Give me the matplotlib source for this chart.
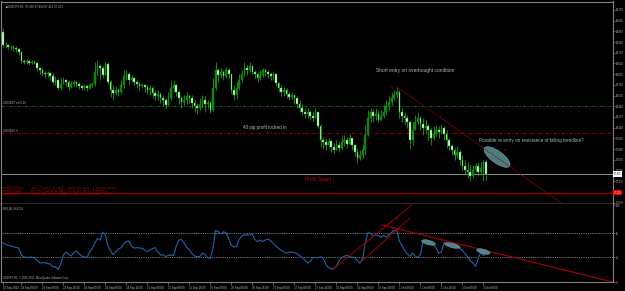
import matplotlib
matplotlib.use('Agg')
import matplotlib.pyplot as plt
import matplotlib.transforms as mtransforms
from matplotlib.patches import Ellipse
import numpy as np

plt.rcParams['font.family'] = ['Liberation Sans', 'DejaVu Sans']

# USDJPY H1 bars (open of each bar = close of the bar before)
first_open = 99.46
close = [99.28, 99.28, 99.25, 99.25, 99.24, 99.22, 99.18, 99.05, 99.04, 99.05,
         99.03, 99.04, 99.03, 98.96, 98.93, 98.89, 98.87, 98.89, 98.84, 98.76,
         98.79, 98.68, 98.73, 98.79, 98.76, 98.69, 98.73, 98.76, 98.73, 98.70,
         98.68, 98.70, 98.68, 98.72, 98.73, 98.90, 98.98, 98.96, 98.86, 99.01,
         98.76, 98.65, 98.61, 98.65, 98.62, 98.72, 98.84, 98.87, 98.79, 98.82,
         98.76, 98.73, 98.70, 98.72, 98.69, 98.65, 98.68, 98.61, 98.56, 98.59,
         98.54, 98.51, 98.44, 98.54, 98.68, 98.72, 98.62, 98.54, 98.48, 98.51,
         98.56, 98.54, 98.47, 98.42, 98.40, 98.45, 98.51, 98.45, 98.47, 98.37,
         98.68, 98.93, 98.86, 98.90, 98.84, 98.93, 98.87, 98.65, 98.58, 98.68,
         98.79, 98.87, 98.96, 98.93, 98.98, 98.90, 98.87, 98.82, 98.86, 98.93,
         98.90, 98.87, 98.84, 98.87, 98.75, 98.68, 98.62, 98.65, 98.59, 98.55,
         98.58, 98.54, 98.45, 98.40, 98.34, 98.31, 98.34, 98.28, 98.26, 98.34,
         98.14, 97.95, 97.92, 97.88, 97.93, 97.85, 97.81, 97.88, 97.84, 97.92,
         97.95, 97.89, 97.98, 97.88, 97.78, 97.70, 97.74, 97.81, 98.02, 98.26,
         98.34, 98.28, 98.31, 98.23, 98.28, 98.34, 98.42, 98.48, 98.54, 98.58,
         98.62, 98.34, 98.28, 98.26, 98.20, 97.95, 98.09, 98.20, 98.26, 98.17,
         98.12, 98.14, 98.09, 97.98, 98.03, 98.09, 98.06, 98.12, 98.03, 97.95,
         97.86, 97.81, 97.74, 97.78, 97.67, 97.58, 97.53, 97.50, 97.44, 97.53,
         97.58, 97.50, 97.56, 97.64, 97.47]
high = [99.52, 99.32, 99.29, 99.28, 99.28, 99.26, 99.24, 99.19, 99.08, 99.08,
        99.07, 99.07, 99.07, 99.04, 98.97, 98.96, 98.91, 98.91, 98.90, 98.89,
        98.84, 98.80, 98.82, 98.83, 98.80, 98.79, 98.77, 98.79, 98.77, 98.76,
        98.72, 98.73, 98.72, 98.75, 98.76, 99.04, 99.07, 99.01, 98.98, 99.04,
        99.04, 98.79, 98.72, 98.70, 98.68, 98.79, 98.93, 98.93, 98.90, 98.86,
        98.83, 98.79, 98.76, 98.75, 98.73, 98.72, 98.72, 98.70, 98.65, 98.65,
        98.62, 98.58, 98.54, 98.62, 98.79, 98.79, 98.73, 98.65, 98.56, 98.58,
        98.62, 98.59, 98.58, 98.51, 98.47, 98.54, 98.58, 98.56, 98.51, 98.49,
        98.82, 99.04, 98.96, 98.96, 98.93, 98.97, 98.96, 98.87, 98.72, 98.76,
        98.87, 98.93, 99.04, 99.00, 99.04, 98.98, 98.93, 98.90, 98.93, 98.96,
        98.96, 98.93, 98.90, 98.90, 98.89, 98.76, 98.72, 98.69, 98.68, 98.62,
        98.62, 98.58, 98.55, 98.51, 98.45, 98.40, 98.40, 98.37, 98.34, 98.40,
        98.34, 98.17, 97.99, 97.98, 97.98, 97.95, 97.91, 97.95, 97.92, 98.02,
        98.02, 97.99, 98.03, 97.98, 97.89, 97.84, 97.81, 97.88, 98.16, 98.37,
        98.40, 98.38, 98.40, 98.37, 98.37, 98.44, 98.51, 98.56, 98.62, 98.65,
        98.69, 98.65, 98.40, 98.34, 98.30, 98.23, 98.20, 98.30, 98.34, 98.28,
        98.26, 98.23, 98.17, 98.12, 98.14, 98.16, 98.14, 98.17, 98.14, 98.09,
        97.98, 97.89, 97.84, 97.86, 97.81, 97.74, 97.67, 97.64, 97.61, 97.60,
        97.63, 97.64, 97.64, 97.67, 97.67]
low = [99.25, 99.24, 99.22, 99.21, 99.19, 99.18, 99.14, 99.03, 99.01, 99.01,
       99.00, 99.01, 99.01, 98.91, 98.87, 98.84, 98.82, 98.83, 98.79, 98.73,
       98.72, 98.65, 98.65, 98.73, 98.70, 98.65, 98.68, 98.70, 98.69, 98.66,
       98.65, 98.65, 98.63, 98.66, 98.69, 98.70, 98.86, 98.79, 98.82, 98.90,
       98.73, 98.55, 98.51, 98.58, 98.56, 98.59, 98.68, 98.79, 98.73, 98.76,
       98.72, 98.68, 98.65, 98.68, 98.62, 98.59, 98.58, 98.54, 98.51, 98.51,
       98.47, 98.42, 98.40, 98.42, 98.51, 98.62, 98.56, 98.45, 98.40, 98.42,
       98.45, 98.47, 98.40, 98.34, 98.31, 98.37, 98.40, 98.34, 98.40, 98.33,
       98.35, 98.65, 98.76, 98.82, 98.79, 98.82, 98.82, 98.61, 98.51, 98.52,
       98.65, 98.76, 98.84, 98.86, 98.90, 98.87, 98.82, 98.76, 98.79, 98.83,
       98.84, 98.82, 98.79, 98.79, 98.70, 98.62, 98.56, 98.56, 98.54, 98.51,
       98.52, 98.45, 98.40, 98.34, 98.30, 98.26, 98.26, 98.23, 98.20, 98.26,
       98.12, 97.85, 97.82, 97.81, 97.84, 97.78, 97.77, 97.81, 97.78, 97.81,
       97.86, 97.84, 97.88, 97.81, 97.72, 97.63, 97.67, 97.70, 97.74, 98.00,
       98.20, 98.20, 98.23, 98.20, 98.23, 98.26, 98.30, 98.37, 98.44, 98.51,
       98.54, 98.26, 98.20, 98.17, 98.12, 97.84, 97.88, 98.09, 98.17, 98.09,
       98.02, 98.03, 97.95, 97.88, 97.95, 98.00, 97.98, 98.03, 97.95, 97.84,
       97.81, 97.74, 97.67, 97.70, 97.60, 97.53, 97.47, 97.42, 97.39, 97.42,
       97.50, 97.44, 97.46, 97.37, 97.37]
rsi = [52.9, 51.0, 49.7, 49.1, 48.2, 47.2, 46.6, 37.9, 35.4, 35.0,
       35.0, 35.3, 34.1, 31.0, 27.9, 28.1, 28.2, 27.2, 26.6, 22.9,
       23.2, 19.7, 26.6, 37.9, 41.6, 38.5, 36.6, 41.0, 42.9, 39.1,
       36.6, 35.4, 34.7, 41.6, 46.0, 52.9, 58.5, 56.6, 66.0, 62.9,
       49.1, 42.9, 37.9, 42.2, 45.4, 47.2, 51.6, 54.7, 55.4, 48.5,
       46.6, 47.0, 46.6, 46.3, 44.1, 42.2, 44.1, 46.0, 47.2, 41.6,
       37.9, 38.2, 36.0, 37.2, 37.9, 37.2, 49.1, 56.6, 57.2, 52.9,
       47.2, 44.7, 39.7, 36.6, 35.7, 36.0, 40.4, 38.5, 34.1, 33.8,
       46.6, 68.5, 67.0, 64.1, 66.9, 65.4, 58.5, 49.7, 48.2, 48.5,
       57.9, 61.6, 62.9, 63.1, 62.9, 63.5, 57.2, 54.7, 56.4, 54.7,
       56.6, 57.9, 55.7, 52.2, 49.1, 46.0, 43.7, 41.6, 40.1, 41.6,
       41.5, 40.5, 39.6, 37.0, 35.2, 31.6, 27.9, 29.6, 34.7, 34.7,
       34.4, 35.6, 33.7, 26.0, 22.1, 20.9, 20.4, 23.7, 30.7, 34.6,
       36.2, 37.6, 35.4, 35.2, 34.1, 30.7, 27.5, 32.5, 52.9, 65.4,
       65.1, 61.6, 63.1, 62.1, 60.0, 62.5, 60.2, 63.4, 66.0, 68.5,
       69.1, 55.4, 49.7, 43.5, 39.1, 36.0, 40.4, 36.6, 34.4, 37.9,
       54.1, 54.7, 53.7, 52.9, 51.2, 46.6, 40.0, 41.6, 53.1, 52.5,
       51.0, 49.7, 48.9, 48.5, 46.0, 43.5, 39.5, 35.7, 31.0, 27.9,
       23.5, 32.9, 41.6, 37.2, 39.9]

# order levels
entry_price = 98.42
stop_price = 98.04
bid_price = 97.471
target_price = 97.21

# 97.22 sits under the red target box, so it is left out
price_ticks = [97.07, 97.37, 97.52, 97.67, 97.82, 97.97, 98.12, 98.27, 98.42,
               98.57, 98.72, 98.87, 99.02, 99.17, 99.32, 99.47, 99.62, 99.77]
rsi_levels = [65, 35]

date_ticks = [0, 7, 15, 23, 31, 39, 47, 55, 63, 71, 79, 87, 95, 103, 111, 119,
              127, 135, 143, 151, 159, 167, 175, 183]
date_labels = ['20 Sep 2013', '23 Sep 00:00', '23 Sep 08:00', '23 Sep 16:00',
               '24 Sep 00:00', '24 Sep 08:00', '24 Sep 16:00', '25 Sep 00:00',
               '25 Sep 08:00', '25 Sep 16:00', '26 Sep 00:00', '26 Sep 08:00',
               '26 Sep 16:00', '27 Sep 00:00', '27 Sep 08:00', '27 Sep 16:00',
               '30 Sep 00:00', '30 Sep 08:00', '30 Sep 16:00', '1 Oct 00:00',
               '1 Oct 08:00', '1 Oct 16:00', '2 Oct 00:00', '2 Oct 08:00']

# drawn trendlines (bar index, value)
price_trend_x = [150.1, 213.3]
price_trend_y = [98.69, 97.05]
rsi_trend_x = [144.4, 232.4]
rsi_trend_y = [75.4, 4.1]
rsi_chan_a_x = [125.3, 155.8]
rsi_chan_a_y = [19.1, 100.4]
rsi_chan_b_x = [136.0, 155.0]
rsi_chan_b_y = [27.9, 84.1]

BG = 'black'
AXC = '#808080'
TXT = '#B4B4B4'
WICK = '#16A016'
BULL = '#0B7E0B'
BEAR = '#E4FFE4'
TEAL = '#4F8789'
RED = '#B00000'

close = np.array(close)
high = np.array(high)
low = np.array(low)
opens = np.concatenate([[first_open], close[:-1]])
high = np.maximum(high, np.maximum(opens, close))
low = np.minimum(low, np.minimum(opens, close))
idx = np.arange(len(close))
xlim = (-0.952, 232.19)

fig = plt.figure(figsize=(6.25, 2.91), dpi=100, facecolor=BG)
ax = fig.add_axes([0.5 / 625, 87 / 291, 612 / 625, 202.5 / 291], facecolor=BG)
ax2 = fig.add_axes([0.5 / 625, 9 / 291, 612 / 625, 78 / 291], facecolor=BG)

# ---- price panel ----
ax.vlines(idx, low, high, color=WICK, lw=0.6, zorder=3)
up = close >= opens
ax.bar(idx[up], (close - opens)[up], bottom=opens[up], width=0.62,
       color=BULL, edgecolor=WICK, linewidth=0.3, zorder=4)
ax.bar(idx[~up], (opens - close)[~up], bottom=close[~up], width=0.62,
       color=BEAR, edgecolor=WICK, linewidth=0.3, zorder=4)

ax.axhline(entry_price, color='#0C5C0C', lw=0.8, ls=(0, (3, 1.5, 1, 1.5)), zorder=2)
ax.axhline(stop_price, color='#8E0000', lw=0.8, ls=(0, (3, 1.5, 1, 1.5)), zorder=2)
ax.axhline(bid_price, color='#8C8C8C', lw=0.7, zorder=2)
ax.axhline(target_price, color='#A00000', lw=0.9, zorder=2)

ax.plot(price_trend_x, price_trend_y, color=RED, lw=0.6, ls=(0, (2, 1)), zorder=5)

ell_tr = fig.dpi_scale_trans + mtransforms.ScaledTranslation(188.2, 97.71, ax.transData)
ax.add_patch(Ellipse((0, 0), 0.31, 0.12, angle=-36, transform=ell_tr,
                     facecolor=TEAL, edgecolor='#6FA3A5', lw=0.4, alpha=0.95, zorder=4))

ax.text(0.008, 0.985, '\u25a0', transform=ax.transAxes, color='white',
        fontsize=1.8, va='top', ha='left')
ax.text(0.012, 0.987, 'USDJPY,H1  97.436 97.494 97.412 97.471', transform=ax.transAxes,
        color=TXT, fontsize=2.1, va='top', ha='left')
ax.text(0, entry_price + 0.04, '#41926457 sell 0.10', color=TXT, fontsize=1.8, va='center')
ax.text(0, stop_price + 0.03, '#41926457 sl', color=TXT, fontsize=1.8, va='center')

ax.text(142.1, 98.914, 'Short entry on overbought condition', color=TXT,
        fontsize=3.5, va='center', ha='left')
ax.text(91.4, 98.13, '40 pip profit locked in', color=TXT,
        fontsize=3.3, va='center', ha='left')
ax.text(181.3, 97.94, 'Possible re entry on resistance of falling trendline?', color=TXT,
        fontsize=3.35, va='center', ha='left')
ax.text(115.0, 97.39, 'Profit Target !', color='#D00000',
        fontsize=3.4, va='center', ha='left')
ax.text(148.2, 98.68, '6', color='#D00000', fontsize=3, va='center', ha='center')
ax.text(191.2, 97.81, 'x', color='#D00000', fontsize=3, va='center', ha='center')

stats = ['ProfitPips :  95.2 [Lots 0.10]  Open 98.423  [10/01/2013]',
         'ProfitUSD  :  97.72 [Swap 0.00]  Bid 97.471  [08:46]',
         'DrawDown   :  0.00% [Equity 10097.72]  [SL 98.043]']
for k, s in enumerate(stats):
    ax.text(0, 97.276 - 0.042 * k, s, color='#C00000', fontsize=2.3,
            family=['Liberation Mono', 'DejaVu Sans Mono'], va='center', ha='left')

ax.set_xlim(*xlim)
ax.set_ylim(97.052, 99.887)
ax.set_xticks([])
ax.yaxis.tick_right()
ax.set_yticks(price_ticks)
ax.set_yticklabels(['%.3f' % p for p in price_ticks])
ax.tick_params(axis='y', length=1.5, width=0.5, color=AXC, labelcolor='#C8C8C8',
               labelsize=1.8, pad=1)
for side in ['top', 'left', 'right']:
    ax.spines[side].set_color(AXC)
    ax.spines[side].set_linewidth(0.8)
ax.spines['bottom'].set_color('#D8D8D8')
ax.spines['bottom'].set_linewidth(1.0)

ytr = mtransforms.blended_transform_factory(ax.transAxes, ax.transData)
ax.text(1.002, bid_price, '%.3f' % bid_price, transform=ytr, fontsize=1.8, color='black',
        va='center', ha='left', bbox=dict(boxstyle='square,pad=0.25', fc='white', ec='none'))
ax.text(1.002, target_price, '%.3f' % target_price, transform=ytr, fontsize=1.8,
        color='#FFD0D0', va='center', ha='left',
        bbox=dict(boxstyle='square,pad=0.25', fc='#E00000', ec='none'))

# ---- RSI panel ----
for lv in rsi_levels:
    ax2.axhline(lv, color='#9A9A9A', lw=0.6, ls=(0, (1, 1.2)), zorder=1)
ax2.plot(idx, rsi, color='#2662AC', lw=0.8, zorder=3)
ax2.plot(rsi_trend_x, rsi_trend_y, color='#A00000', lw=0.9, zorder=4)
ax2.plot(rsi_chan_a_x, rsi_chan_a_y, color='#A00000', lw=0.7, zorder=4)
ax2.plot(rsi_chan_b_x, rsi_chan_b_y, color='#A00000', lw=0.7, zorder=4)
ax2.text(150.1, 82.8, '6', color='#D00000', fontsize=3, va='center', ha='center')

for cx, cy, w in [(162.1, 53.5, 0.14), (171.2, 49.7, 0.16), (183.0, 42.2, 0.14)]:
    tr = fig.dpi_scale_trans + mtransforms.ScaledTranslation(cx, cy, ax2.transData)
    ax2.add_patch(Ellipse((0, 0), w, 0.045, angle=-14, transform=tr,
                          facecolor=TEAL, edgecolor='#6FA3A5', lw=0.3, zorder=5))

ax2.text(0.004, 0.96, 'RSI(14) 39.8724', transform=ax2.transAxes, color=TXT,
         fontsize=1.9, va='top', ha='left')
ax2.text(0.004, 0.02, 'USDJPY,H1, \u00a9 2001-2013, MetaQuotes Software Corp.',
         transform=ax2.transAxes, color=TXT, fontsize=1.9, va='bottom', ha='left')

ax2.set_xlim(*xlim)
ax2.set_ylim(4.1, 101.6)
ax2.yaxis.tick_right()
ax2.set_yticks([100, 65, 35, 4.1])
ax2.set_yticklabels(['100', '65', '35', '0'])
ax2.tick_params(axis='y', length=1.5, width=0.5, color=AXC, labelcolor='#C8C8C8',
                labelsize=1.8, pad=1)
ax2.set_xticks(date_ticks)
ax2.set_xticklabels(date_labels, ha='left')
ax2.tick_params(axis='x', length=2, width=0.5, color=AXC, labelcolor='#C8C8C8',
                labelsize=2.0, pad=0.8)
ax2.spines['top'].set_visible(False)
for side in ['left', 'right', 'bottom']:
    ax2.spines[side].set_color(AXC)
    ax2.spines[side].set_linewidth(0.8)

fig.savefig('out.png', dpi=100, facecolor=BG)
